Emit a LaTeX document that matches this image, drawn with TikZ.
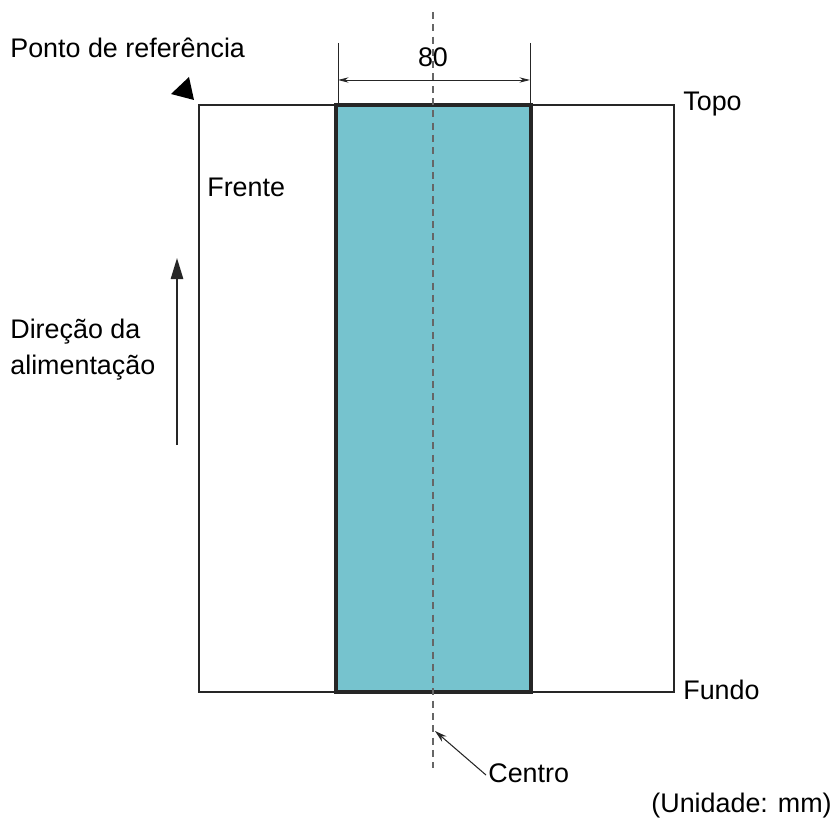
\documentclass[tikz,border=0pt]{standalone}
\usepackage{fontspec}
\setmainfont{Liberation Sans}
\usetikzlibrary{arrows.meta}
\definecolor{paperblue}{HTML}{76C3CE}
\definecolor{centergray}{HTML}{666666}

\begin{document}
\begin{tikzpicture}[x=0.02cm, y=-0.02cm,
  lbl/.style = {inner sep=0, font=\fontsize{15.3}{18.5}\selectfont},
  sheet/.style = {draw=black!85, line width=1.1pt},
  scanarea/.style = {draw=black!85, fill=paperblue, line width=1.8pt},
  dimline/.style = {draw=black!85, line width=0.5pt}]
	\useasboundingbox (0,0) rectangle (836,828);
	% sheet and scanned area
	\draw[sheet] (199,105) rectangle (674,692);
	\draw[scanarea] (336,105) rectangle (531,692);
	% centre line
	\coordinate (ctop) at (433,12);
	\coordinate (cbot) at (433,768);
	\draw[centergray, dashed, line width=0.6pt, dash pattern=on 4pt off 3pt] (ctop) -- (cbot);
	% width dimension
	\coordinate (dl) at (338,43);
	\coordinate (dr) at (530,43);
	\draw[dimline] (dl) -- (338,105);
	\draw[dimline] (dr) -- (530,105);
	\coordinate (al) at (338,80);
	\coordinate (ar) at (530,80);
	\draw[dimline, {Stealth[length=6pt,width=3pt]}-{Stealth[length=6pt,width=3pt]}] (al) -- (ar);
	\node[lbl] (width) at (433,57) {80};
	% labels
	\node[lbl, anchor=west] (ref) at (10,48) {Ponto de referência};
	\fill[black] (171,94) -- (189,77) -- (194,100) -- cycle;
	\node[lbl, anchor=west] (topo) at (683,104) {Topo};
	\node[lbl, anchor=west] (fundo) at (683,690) {Fundo};
	\node[lbl, anchor=west] (frente) at (207,187) {Frente};
	\node[lbl, anchor=west, align=left] (dir) at (10,350) {Direção da\\[2pt]alimentação};
	% feed direction
	\coordinate (fa) at (177,445);
	\coordinate (fb) at (177,258);
	\draw[black!85, line width=1.1pt, -{Triangle[length=12pt,width=7pt]}] (fa) -- (fb);
	% centre pointer
	\node[lbl, anchor=west] (centro) at (488,773) {Centro};
	\coordinate (cp) at (435,731);
	\draw[black!85, line width=0.6pt, -{Stealth[length=7pt,width=4pt]}] (centro.west) ++(-2,2) -- (cp);
	\node[lbl, anchor=east] (unit) at (832,806) {(Unidade: mm)};
\end{tikzpicture}
\end{document}
